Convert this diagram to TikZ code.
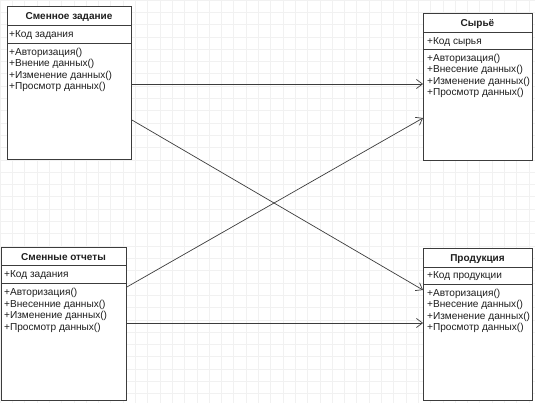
\documentclass[tikz,border=0pt]{standalone}
\usepackage{fontspec}
\setmainfont{Liberation Sans}
\usetikzlibrary{arrows.meta}
\definecolor{linec}{HTML}{3C3C3C}
\definecolor{textc}{HTML}{1E1E1E}
\definecolor{gridc}{HTML}{F1F1F1}
\tikzset{
  classbox/.style={draw=linec, line width=0.9pt, fill=white, anchor=north west, inner sep=0pt},
  sepline/.style={draw=linec, line width=0.8pt},
  hdr/.style={anchor=base, font=\fontsize{10}{12}\selectfont\bfseries, text=textc, inner sep=0pt},
  txt/.style={anchor=base west, font=\fontsize{10.1}{12}\selectfont, text=textc, inner sep=0pt}
}
\tikzset{
  conn/.style={draw=linec, line width=0.7pt, -{Straight Barb[length=6pt,width=9pt,line width=0.7pt]}}
}
\begin{document}
\begin{tikzpicture}[x=1pt,y=-1pt]
\useasboundingbox (0,0) rectangle (535,403);
\fill[white] (0,0) rectangle (535,403);
\draw[gridc, line width=0.6pt, step=12.3pt] (0,0) grid (535,403);

% Box 1: Сменное задание
\node[classbox, minimum width=124pt, minimum height=153pt] (b1) at (7,6) {};
\draw[sepline] (7,25) -- (131,25);
\draw[sepline] (7,43) -- (131,43);
\node[hdr] (b1h) at (69,19.5) {Сменное задание};
\node[txt] (b1a) at (9,37.5) {+Код задания};
\node[txt] (b1m1) at (9,55.5) {+Авторизация()};
\node[txt] (b1m2) at (9,67) {+Внение данных()};
\node[txt] (b1m3) at (9,78.5) {+Изменение данных()};
\node[txt] (b1m4) at (9,90) {+Просмотр данных()};

% Box 2: Сырьё
\node[classbox, minimum width=109pt, minimum height=147pt] (b2) at (423,13) {};
\draw[sepline] (423,32) -- (532,32);
\draw[sepline] (423,49) -- (532,49);
\node[hdr] (b2h) at (477.5,26.5) {Сырьё};
\node[txt] (b2a) at (427,44.5) {+Код сырья};
\node[txt] (b2m1) at (427,61.5) {+Авторизация()};
\node[txt] (b2m2) at (427,73) {+Внесение данных()};
\node[txt] (b2m3) at (427,84.5) {+Изменение данных()};
\node[txt] (b2m4) at (427,96) {+Просмотр данных()};

% Box 3: Сменные отчеты
\node[classbox, minimum width=125pt, minimum height=153pt] (b3) at (1,247) {};
\draw[sepline] (1,265) -- (126,265);
\draw[sepline] (1,283) -- (126,283);
\node[hdr] (b3h) at (63.5,260.5) {Сменные отчеты};
\node[txt] (b3a) at (4,277.5) {+Код задания};
\node[txt] (b3m1) at (4,295.5) {+Авторизация()};
\node[txt] (b3m2) at (4,307) {+Внесенние данных()};
\node[txt] (b3m3) at (4,318.5) {+Изменение данных()};
\node[txt] (b3m4) at (4,330) {+Просмотр данных()};

% Box 4: Продукция
\node[classbox, minimum width=109pt, minimum height=152pt] (b4) at (423,248) {};
\draw[sepline] (423,267) -- (532,267);
\draw[sepline] (423,284) -- (532,284);
\node[hdr] (b4h) at (477.5,261.5) {Продукция};
\node[txt] (b4a) at (427,278.5) {+Код продукции};
\node[txt] (b4m1) at (427,296) {+Авторизация()};
\node[txt] (b4m2) at (427,307.5) {+Внесение данных()};
\node[txt] (b4m3) at (427,319) {+Изменение данных()};
\node[txt] (b4m4) at (427,330.5) {+Просмотр данных()};

% Connectors
\draw[conn] (b1.east |- 0,84) -- (b2.west |- 0,84);
\draw[conn] (b1.east |- 0,120) -- (b4.west |- 0,290);
\draw[conn] (b3.east |- 0,287) -- (b2.west |- 0,118);
\draw[conn] (b3.east |- 0,323) -- (b4.west |- 0,323);
\end{tikzpicture}
\end{document}
